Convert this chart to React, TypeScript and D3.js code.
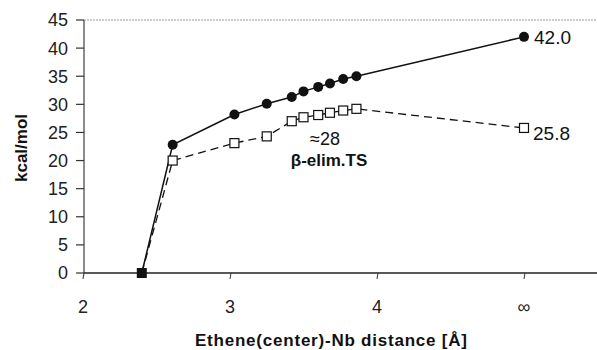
import React from "react";
import * as d3 from "d3";

const distances = [2.61, 3.03, 3.25, 3.42, 3.5, 3.6, 3.68, 3.77, 3.86, 5.0];
const filledValues = [22.8, 28.2, 30.1, 31.3, 32.3, 33.1, 33.7, 34.5, 35.0, 42.0];
const openValues = [20.0, 23.1, 24.3, 27.0, 27.7, 28.1, 28.5, 28.9, 29.2, 25.8];
const startPoint = { x: 2.4, y: 0 };
const yTicks = [0, 5, 10, 15, 20, 25, 30, 35, 40, 45];
const xTicks = [2, 3, 4, 5];
const xTickLabels = ["2", "3", "4", "∞"];

const W = 597;
const H = 350;
const left = 84;
const right = 597;
const top = 20;
const bottom = 273;

export default function App() {
  const x = d3.scaleLinear().domain([2, 5]).range([83, 524]);
  const y = d3.scaleLinear().domain([0, 45]).range([bottom, top]);

  const filled = [startPoint, ...distances.map((d, i) => ({ x: d, y: filledValues[i] }))];
  const open = [startPoint, ...distances.map((d, i) => ({ x: d, y: openValues[i] }))];
  const line = d3
    .line<{ x: number; y: number }>()
    .x((d) => x(d.x))
    .y((d) => y(d.y));

  const font = "Liberation Sans, Arial, sans-serif";
  const last = distances.length - 1;

  return (
    <svg width={W} height={H} style={{ position: "absolute", left: 0, top: 0 }} fontFamily={font}>
      <rect x={0} y={0} width={W} height={H} fill="#fff" />
      {/* top border */}
      <line x1={left} x2={right} y1={top} y2={top} stroke="#999" strokeWidth={1} strokeDasharray="2 1" />
      {/* y axis */}
      <line x1={left} x2={left} y1={top} y2={bottom} stroke="#666" strokeWidth={1.5} />
      {yTicks.map((t) => (
        <g key={t}>
          <line x1={left - 8} x2={left} y1={y(t)} y2={y(t)} stroke="#333" strokeWidth={1.2} />
          <text x={68} y={y(t)} dy="0.36em" textAnchor="end" fontSize={18} fill="#222">
            {t}
          </text>
        </g>
      ))}
      {/* x axis */}
      <line x1={left} x2={right} y1={bottom} y2={bottom} stroke="#222" strokeWidth={1.5} />
      {xTicks.map((t, i) => (
        <g key={t}>
          <line x1={x(t) + 1} x2={x(t)} y1={bottom} y2={bottom + 6} stroke="#333" strokeWidth={1} />
          <text x={x(t)} y={313} textAnchor="middle" fontSize={18} fill="#222">
            {xTickLabels[i]}
          </text>
        </g>
      ))}
      {/* lines */}
      <path d={line(open) || ""} fill="none" stroke="#111" strokeWidth={1.3} strokeDasharray="8 5" />
      <path d={line(filled) || ""} fill="none" stroke="#111" strokeWidth={1.5} />
      {/* markers */}
      {distances.map((d, i) => (
        <rect
          key={"o" + i}
          x={x(d) - 4.5}
          y={y(openValues[i]) - 4.5}
          width={9}
          height={9}
          fill="#fff"
          stroke="#111"
          strokeWidth={1.2}
        />
      ))}
      {distances.map((d, i) => (
        <circle key={"f" + i} cx={x(d)} cy={y(filledValues[i])} r={5} fill="#111" />
      ))}
      <rect x={x(startPoint.x) - 5} y={y(startPoint.y) - 5} width={10} height={10} fill="#111" />
      {/* annotations */}
      <text x={x(distances[last]) + 10} y={y(filledValues[last]) + 7} fontSize={19} fill="#111">
        {filledValues[last].toFixed(1)}
      </text>
      <text x={x(distances[last]) + 9} y={y(openValues[last]) + 12} fontSize={19} fill="#111">
        {openValues[last].toFixed(1)}
      </text>
      <text x={310} y={145} fontSize={18} fill="#111">
        ≈28
      </text>
      <text x={329} y={166} textAnchor="middle" fontSize={17} fontWeight="bold" fill="#111">
        β-elim.TS
      </text>
      {/* axis titles */}
      <text
        transform="translate(27, 148) rotate(-90)"
        textAnchor="middle"
        fontSize={17}
        fontWeight="bold"
        fill="#111"
      >
        kcal/mol
      </text>
      <text
        x={331}
        y={346}
        textAnchor="middle"
        fontSize={17}
        fontWeight="bold"
        fill="#111"
        textLength={272}
        lengthAdjust="spacing"
      >
        Ethene(center)-Nb distance [Å]
      </text>
    </svg>
  );
}
